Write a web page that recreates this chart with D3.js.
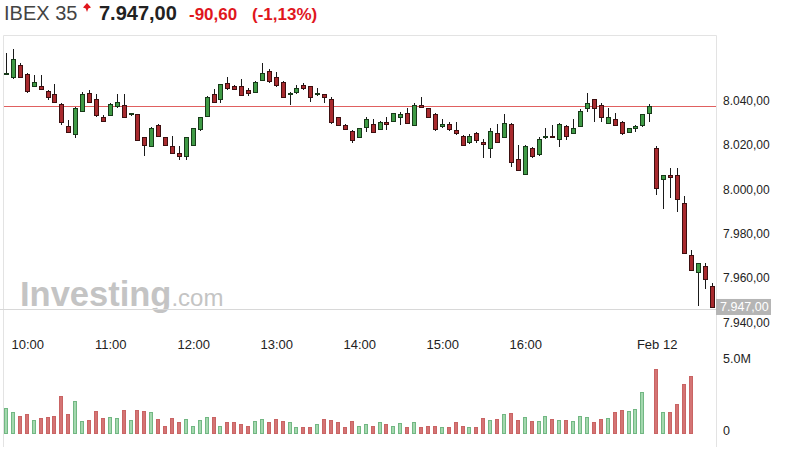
<!DOCTYPE html>
<html>
<head>
<meta charset="utf-8">
<script src="https://cdn.jsdelivr.net/npm/d3@7"></script>
<style>
  body { margin: 0; background: #fff; }
  svg { display: block; font-family: Arial, "Liberation Sans", sans-serif; }
</style>
</head>
<body>
<div id="chart"></div>
<script>
// IBEX 35, velas de 5 minutos (9:45 - 17:30 y Feb 12 9:00 - 9:40)
const opens = [
  8052.0, 8050.5, 8056.0, 8052.0, 8046.7, 8046.7, 8044.3, 8043.0, 8038.4, 8028.7,
  8024.9, 8035.4, 8043.6, 8040.6, 8032.8, 8033.6, 8037.8, 8038.1, 8034.0, 8034.0,
  8023.6, 8019.7, 8029.2, 8023.6, 8019.7, 8016.4, 8015.2, 8020.1, 8027.2, 8033.1,
  8043.0, 8040.6, 8048.2, 8046.6, 8046.6, 8044.7, 8044.0, 8049.3, 8053.5, 8050.5,
  8048.5, 8043.2, 8044.0, 8047.0, 8046.6, 8043.0, 8043.0, 8040.6, 8032.6, 8029.1,
  8026.5, 8023.6, 8028.3, 8029.6, 8027.3, 8030.6, 8031.0, 8032.6, 8034.6, 8029.1,
  8038.0, 8036.6, 8034.0, 8028.7, 8029.6, 8026.9, 8024.2, 8021.2, 8025.4, 8021.6,
  8018.7, 8025.4, 8023.6, 8029.6, 8013.7, 8007.1, 8018.7, 8016.1, 8023.6, 8024.2,
  8022.7, 8028.7, 8025.4, 8028.7, 8036.6, 8040.6, 8038.1, 8030.1, 8031.7, 8030.6,
  8026.1, 8027.6, 8029.1, 8034.4,
  8018.7, 8004.8, 8006.4, 8006.4, 7993.7, 7970.5, 7962.6, 7965.6, 7956.3
];
const highs = [
  8061.3, 8063.5, 8057.0, 8052.3, 8051.8, 8051.8, 8044.8, 8047.4, 8038.8, 8031.3,
  8037.3, 8044.0, 8044.8, 8043.0, 8033.5, 8039.0, 8043.0, 8043.0, 8034.6, 8034.2,
  8023.8, 8028.0, 8029.5, 8023.8, 8024.3, 8019.7, 8023.8, 8027.8, 8032.8, 8042.3,
  8045.1, 8047.6, 8050.8, 8047.2, 8049.6, 8045.6, 8048.7, 8057.2, 8054.2, 8052.8,
  8048.7, 8044.0, 8047.2, 8048.2, 8046.8, 8045.6, 8043.2, 8041.5, 8032.8, 8029.5,
  8026.7, 8027.8, 8032.5, 8031.6, 8030.8, 8032.8, 8034.5, 8035.1, 8036.6, 8038.8,
  8041.8, 8036.8, 8034.6, 8031.6, 8030.6, 8030.6, 8024.4, 8025.0, 8025.8, 8022.7,
  8027.5, 8029.4, 8034.0, 8029.8, 8020.1, 8020.0, 8018.9, 8023.6, 8027.6, 8029.1,
  8029.8, 8028.9, 8031.7, 8036.1, 8043.3, 8040.8, 8039.1, 8036.6, 8034.3, 8030.8,
  8027.8, 8028.9, 8034.2, 8038.5,
  8019.7, 8006.6, 8009.7, 8009.7, 7997.0, 7972.7, 7967.0, 7966.8, 7958.0
];
const lows = [
  8051.5, 8050.0, 8050.5, 8043.5, 8046.3, 8044.8, 8040.2, 8039.0, 8029.1, 8025.4,
  8023.1, 8034.8, 8038.8, 8032.8, 8030.5, 8033.0, 8036.6, 8032.4, 8033.3, 8022.0,
  8014.9, 8019.5, 8024.0, 8019.8, 8016.2, 8013.1, 8013.1, 8019.8, 8026.5, 8032.6,
  8039.0, 8038.8, 8044.8, 8045.0, 8042.4, 8042.1, 8043.8, 8049.1, 8047.9, 8046.3,
  8041.3, 8038.1, 8043.2, 8044.8, 8039.6, 8042.0, 8038.8, 8029.5, 8028.9, 8027.0,
  8021.0, 8023.4, 8025.7, 8025.4, 8027.1, 8026.9, 8030.8, 8029.1, 8029.9, 8028.9,
  8036.6, 8032.0, 8026.5, 8027.6, 8026.5, 8024.6, 8019.9, 8020.5, 8020.9, 8014.2,
  8014.2, 8021.0, 8023.4, 8010.1, 8008.2, 8006.5, 8014.2, 8015.2, 8022.7, 8023.4,
  8019.1, 8022.1, 8025.2, 8028.5, 8034.8, 8030.6, 8030.6, 8029.9, 8028.9, 8024.6,
  8025.7, 8026.1, 8028.1, 8030.6,
  7997.7, 7991.0, 7996.0, 7990.0, 7971.1, 7963.4, 7947.6, 7955.1, 7947.0
];
const closes = [
  8052.6, 8058.6, 8050.8, 8044.3, 8048.5, 8045.5, 8041.5, 8039.3, 8030.3, 8026.1,
  8036.6, 8043.0, 8039.3, 8033.6, 8031.0, 8038.4, 8039.6, 8032.6, 8034.3, 8022.4,
  8020.1, 8027.6, 8024.2, 8020.1, 8016.4, 8015.2, 8023.6, 8027.6, 8032.6, 8041.5,
  8039.3, 8047.4, 8045.6, 8045.2, 8042.6, 8043.6, 8048.5, 8052.3, 8049.0, 8047.0,
  8041.5, 8043.6, 8045.6, 8045.6, 8041.5, 8043.6, 8041.5, 8030.3, 8029.1, 8027.2,
  8022.1, 8027.6, 8031.6, 8026.1, 8030.6, 8029.6, 8034.3, 8034.2, 8030.1, 8038.1,
  8037.0, 8032.6, 8027.2, 8029.6, 8027.2, 8025.4, 8020.1, 8024.2, 8022.4, 8020.4,
  8026.5, 8021.2, 8030.1, 8012.2, 8008.9, 8019.7, 8014.9, 8022.7, 8024.2, 8023.6,
  8029.6, 8024.2, 8027.6, 8035.5, 8039.1, 8036.6, 8032.6, 8032.6, 8029.1, 8025.4,
  8027.6, 8028.7, 8034.0, 8037.6,
  8000.7, 8006.4, 8005.6, 7995.5, 7971.3, 7963.6, 7966.8, 7959.6, 7947.0
];
// volumen en millones (null = sin barra)
const volumes = [
  1.72, 1.38, 1.17, 1.26, 0.87, 1.03, 1.10, 1.17, 2.55, 1.29,
  2.14, 0.76, 0.87, 1.45, 1.03, 1.10, 1.03, 1.56, 0.87, 1.56,
  1.45, 1.38, 0.94, 0.48, 1.03, 0.69, 0.94, 0.48, 0.87, 1.10,
  1.10, 0.48, 0.69, 0.69, 0.57, 0.48, 0.76, 0.94, 0.69, 0.94,
  0.76, 0.69, 0.41, 0.41, 0.41, 0.57, 0.94, 0.87, 0.69, 0.41,
  0.76, 0.48, 0.57, 0.48, 0.69, 0.57, 0.48, 0.64, 0.41, 0.74,
  0.41, 0.48, 0.48, 0.41, 0.41, 0.74, 0.48, 0.41, 0.41, 0.99,
  0.83, 0.94, 1.26, 1.33, 0.83, 1.10, 0.76, 0.76, 1.17, 0.94,
  0.83, 0.83, 0.76, 1.17, 1.10, 0.69, 0.94, 1.03, 1.38, 1.56,
  1.45, 1.61, 2.76, null,
  4.37, 1.38, 1.38, 1.95, 3.36, 3.93, null, null, null
];
const timeLabels = ["10:00", "11:00", "12:00", "13:00", "14:00", "15:00", "16:00", "Feb 12"];
const timeIndex  = [3, 15, 27, 39, 51, 63, 75, 94];
const priceTicks = [7940, 7960, 7980, 8000, 8020, 8040];
const prevClose = 8037.6;
const lastPrice = 7947.0;
const change = -90.6;
const changePct = -1.13;

const width = 790, height = 455;
const plotLeft = 3, plotRight = 717, plotTop = 35, plotBottom = 447;

const es = d3.formatLocale({decimal: ",", thousands: ".", grouping: [3], currency: ["", "€"], minus: "-"});
const fmtPrice = es.format(",.2f");

const svg = d3.select("#chart").append("svg")
    .attr("width", width)
    .attr("height", height);

const candles = opens.map((o, i) => ({i, o, h: highs[i], l: lows[i], c: closes[i], v: volumes[i]}));

const x = d3.scaleLinear().domain([0, candles.length - 1]).range([6, 711.5]);
const y = d3.scaleLinear().domain([7940, 8040]).range([322.5, 100.7]);
const yVol = d3.scaleLinear().domain([0, 5]).range([432.5, 360]);

// Header
const head = svg.append("g");
head.append("text").attr("x", 4).attr("y", 19.5)
    .attr("font-size", 20).attr("fill", "#444").text("IBEX 35");
head.append("path")
    .attr("d", "M87,3 L91,7.5 L88.3,8.5 L87,12 L85.7,8.5 L83,7.5 Z")
    .attr("fill", "#e0161d");
head.append("text").attr("x", 99).attr("y", 19.5)
    .attr("font-size", 20).attr("font-weight", "bold").attr("fill", "#222")
    .text(fmtPrice(lastPrice));
head.append("text").attr("x", 189).attr("y", 19.5)
    .attr("font-size", 17).attr("font-weight", "bold").attr("fill", "#e0161d")
    .text(es.format(".2f")(change));
head.append("text").attr("x", 252).attr("y", 19.5)
    .attr("font-size", 17).attr("font-weight", "bold").attr("fill", "#e0161d")
    .text(`(${es.format(".2f")(changePct)}%)`);

// Marca de agua
const wm = svg.append("text").attr("x", 20).attr("y", 306).attr("fill", "#c4c4c4");
wm.append("tspan").attr("font-size", 34.5).attr("font-weight", "bold").text("Investing");
wm.append("tspan").attr("font-size", 24).text(".com");

// Marco
svg.append("path")
    .attr("d", `M${plotLeft + 0.5},${plotBottom} V${plotTop + 0.5} H${plotRight - 0.5} V${plotBottom}`)
    .attr("fill", "none")
    .attr("stroke", "#e3e3e3");

// Línea del cierre anterior
svg.append("line")
    .attr("x1", plotLeft + 1).attr("x2", plotRight - 1)
    .attr("y1", Math.round(y(prevClose)) + 0.5).attr("y2", Math.round(y(prevClose)) + 0.5)
    .attr("stroke", "#e06060");

// Línea del último precio
svg.append("line")
    .attr("x1", 0).attr("x2", plotRight)
    .attr("y1", Math.round(y(lastPrice)) + 2.5).attr("y2", Math.round(y(lastPrice)) + 2.5)
    .attr("stroke", "#d8d8d8");

// Velas
const up = d => d.c >= d.o;
const candle = svg.append("g").selectAll("g")
  .data(candles)
  .join("g");

candle.append("line")
    .attr("x1", d => Math.round(x(d.i)) + 0.5)
    .attr("x2", d => Math.round(x(d.i)) + 0.5)
    .attr("y1", d => Math.round(y(d.h)))
    .attr("y2", d => Math.round(y(d.l)))
    .attr("stroke", "#1a1a1a");

candle.append("rect")
    .attr("x", d => Math.round(x(d.i)) - 1.5)
    .attr("width", 4)
    .attr("y", d => Math.round(y(Math.max(d.o, d.c))) + 0.5)
    .attr("height", d => Math.max(1, Math.round(y(Math.min(d.o, d.c))) - Math.round(y(Math.max(d.o, d.c)))))
    .attr("fill", d => up(d) ? "#3f9a45" : "#a82a2e")
    .attr("stroke", d => up(d) ? "#173a19" : "#3d0f10");

// Eje de precios
svg.append("g").selectAll("text")
  .data(priceTicks)
  .join("text")
    .attr("x", 723)
    .attr("y", d => y(d))
    .attr("dy", "0.35em")
    .attr("font-size", 12)
    .attr("fill", "#222")
    .text(d => fmtPrice(d));

// Etiqueta del último precio
svg.append("rect")
    .attr("x", 716).attr("y", y(lastPrice) - 8)
    .attr("width", 55).attr("height", 16)
    .attr("fill", "#b5b5b5");
svg.append("text")
    .attr("x", 720).attr("y", y(lastPrice))
    .attr("dy", "0.36em")
    .attr("font-size", 12.5)
    .attr("fill", "#fff")
    .text(fmtPrice(lastPrice));

// Eje de tiempo
svg.append("g").selectAll("text")
  .data(timeLabels)
  .join("text")
    .attr("x", (d, k) => x(timeIndex[k]) + 1)
    .attr("y", 348.5)
    .attr("text-anchor", "middle")
    .attr("font-size", 13)
    .attr("fill", "#222")
    .text(d => d);

// Volumen
svg.append("g").selectAll("rect")
  .data(candles.filter(d => d.v != null))
  .join("rect")
    .attr("x", d => Math.round(x(d.i)) - 1.5)
    .attr("width", 3)
    .attr("y", d => Math.round(yVol(d.v)) + 0.5)
    .attr("height", d => Math.round(yVol(0)) - Math.round(yVol(d.v)))
    .attr("fill", d => up(d) ? "#a3d8ae" : "#d47474")
    .attr("stroke", d => up(d) ? "#72b783" : "#c96464");

svg.append("g").selectAll("text")
  .data([0, 5])
  .join("text")
    .attr("x", 723)
    .attr("y", d => yVol(d) - 1.5)
    .attr("dy", "0.35em")
    .attr("font-size", 12.5)
    .attr("fill", "#222")
    .text(d => d === 0 ? "0" : d.toFixed(1) + "M");
</script>
</body>
</html>
